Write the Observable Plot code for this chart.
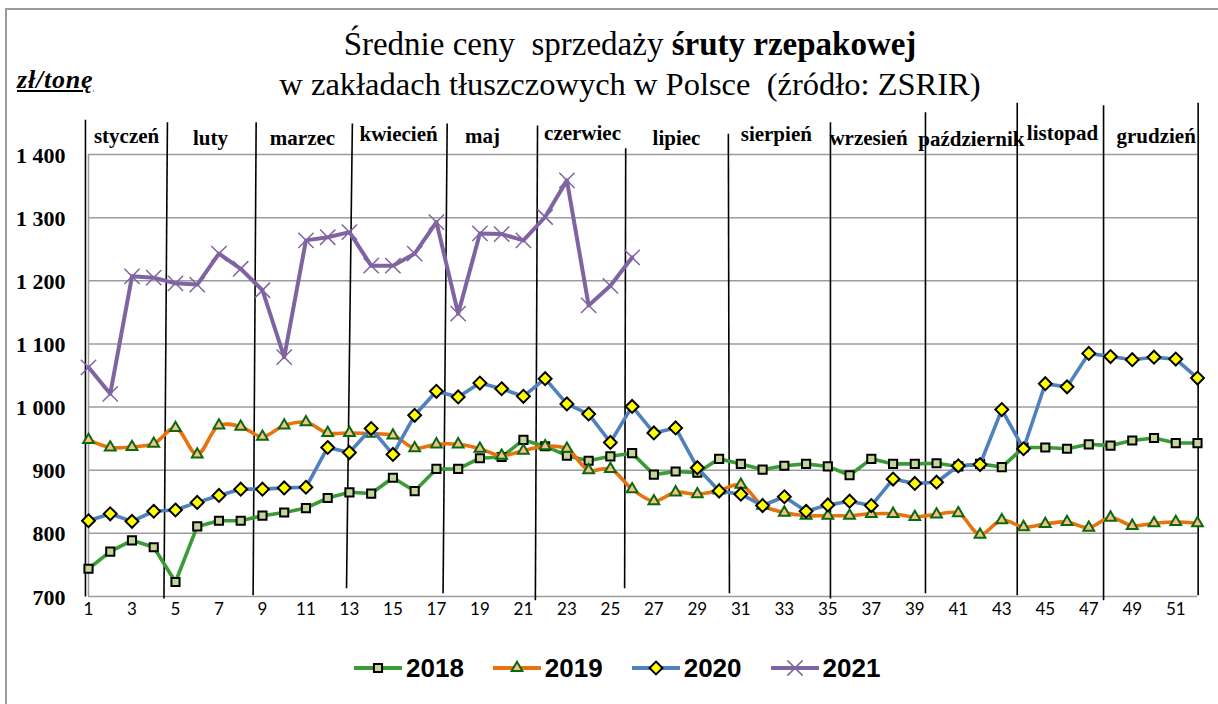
<!DOCTYPE html>
<html>
<head>
<meta charset="utf-8">
<script src="https://cdn.jsdelivr.net/npm/d3@7"></script>
<script src="https://cdn.jsdelivr.net/npm/@observablehq/plot@0.6"></script>
<style>
  html, body { margin: 0; padding: 0; background: #fff; }
  #wrap { position: relative; width: 1218px; height: 704px; overflow: hidden; background: #fff; }
  #frame { position: absolute; left: 5px; top: 8px; width: 1300px; height: 800px;
           border-left: 2px solid #9a9a9a; border-top: 2px solid #9a9a9a; }
  .title { position: absolute; left: 21px; width: 1218px; text-align: center;
           font-family: "Liberation Serif", serif; font-size: 33px; line-height: 33px;
           white-space: pre; color: #000; }
  #unit { position: absolute; left: 17px; top: 67px; font-family: "Liberation Serif", serif;
          font-weight: bold; font-style: italic; font-size: 26px; line-height: 26px;
          text-decoration: underline; letter-spacing: 0.8px; }
  #chart { position: absolute; left: 0; top: 100px; }
  #legend { position: absolute; left: 354px; top: 652px; display: flex; align-items: center;
            font-family: "Liberation Sans", sans-serif; font-weight: bold; font-size: 26px; line-height: 32px; }
  #legend .item { display: flex; align-items: center; margin-right: 29px; }
  #legend svg { display: block; margin-right: 4px; }
</style>
</head>
<body>
<div id="wrap">
  <div id="frame"></div>
  <div class="title" style="top:28px">Średnie ceny  sprzedaży <b>śruty rzepakowej</b></div>
  <div class="title" style="top:68px; font-size:32.5px">w zakładach tłuszczowych w Polsce  (źródło: ZSRIR)</div>
  <div id="unit">zł/tonę</div>
  <div id="chart"></div>
  <div id="legend"></div>
</div>
<script>
// ---------- data ----------
const weeks = [1,2,3,4,5,6,7,8,9,10,11,12,13,14,15,16,17,18,19,20,21,22,23,24,25,26,
               27,28,29,30,31,32,33,34,35,36,37,38,39,40,41,42,43,44,45,46,47,48,49,50,51,52];
const price2018 = [744,771,789,778,723,811,820,820,828,833,840,856,865,863,888,867,902,902,919,921,948,938,923,915,922,927,
                   893,898,896,918,910,901,907,910,906,892,918,910,910,911,906,910,905,936,936,934,941,939,947,951,943,943];
const price2019 = [948,936,937,942,967,925,971,969,953,971,976,959,959,958,955,935,941,941,934,923,931,938,934,900,902,870,
                   851,865,862,868,877,844,833,828,828,828,831,831,826,830,832,798,821,810,815,818,809,825,812,816,818,816];
const price2020 = [820,831,819,835,837,849,860,870,870,872,873,936,928,966,925,987,1025,1016,1038,1029,1017,1045,1005,989,944,1001,
                   959,967,904,867,862,844,858,835,845,851,844,886,879,881,907,909,996,934,1037,1032,1085,1080,1075,1079,1076,1046];
const price2021 = [1063,1021,1207,1205,1196,1194,1243,1219,1185,1079,1264,1269,1277,1224,1224,1243,1293,1148,1275,1274,1264,1301,1359,1161,1192,1237];
const seriesNames = ["2018","2019","2020","2021"];

const yTicks = [700,800,900,1000,1100,1200,1300,1400];
const yTickLabels = ["700","800","900","1 000","1 100","1 200","1 300","1 400"];
const xTicks = [1,3,5,7,9,11,13,15,17,19,21,23,25,27,29,31,33,35,37,39,41,43,45,47,49,51];
const xTickLabels = ["1","3","5","7","9","11","13","15","17","19","21","23","25","27","29","31","33","35","37","39","41","43","45","47","49","51"];

const months = ["styczeń","luty","marzec","kwiecień","maj","czerwiec","lipiec","sierpień","wrzesień","październik","listopad","grudzień"];
const monthCenters = [2.75,6.61,10.84,15.26,19.12,23.72,28.04,32.63,36.87,41.6,45.79,50.1];   // week position of label
const monthBoundaries = [0.86,4.55,8.64,13.0,17.4,21.6,25.68,30.45,35.12,39.49,43.71,47.68,52.03]; // week position of separator

// ---------- styling (hand-drawn look of the separators / label heights) ----------
const sepTilt   = [0,0.16,0.14,0.27,0.19,0.1,0.05,-0.05,0,0,0,0,0];
const sepTop    = [1455,1451,1451,1449,1449,1446,1410,1433,1451,1467,1482,1478,1482];
const sepBottom = [700,697,702,713,705,694,713,705,697,705,702,694,702];
const labelY    = [1429,1426,1426,1432,1429,1434,1426,1432,1426,1424,1434,1429];

const rows = (vals, name) => vals.map((v, i) => ({week: weeks[i], price: v, year: name}));
const d18 = rows(price2018, seriesNames[0]);
const d19 = rows(price2019, seriesNames[1]);
const d20 = rows(price2020, seriesNames[2]);
const d21 = rows(price2021, seriesNames[3]);

const seps = monthBoundaries.map((w, i) => ({xt: w + sepTilt[i] / 2, xb: w - sepTilt[i] / 2, yt: sepTop[i], yb: sepBottom[i]}));
const monthRows = months.map((m, i) => ({name: m, x: monthCenters[i], y: labelY[i]}));
const yRows = yTicks.map((v, i) => ({v, label: yTickLabels[i]}));
const xRows = xTicks.map((v, i) => ({v, label: xTickLabels[i]}));

const C = {
  g: "#3b9b35", gFill: "#c4d79b",
  o: "#e8720c", oFill: "#f9bf90", oStroke: "#0b6b0b",
  b: "#4f81bd", bFill: "#ffff00",
  p: "#8064a2"
};

const serif = "Liberation Serif";

const chart = Plot.plot({
  width: 1218, height: 540,
  marginLeft: 88, marginRight: 21, marginTop: 54, marginBottom: 44,
  x: {domain: [1, 52], axis: null},
  y: {domain: [700, 1400], axis: null},
  style: {background: "transparent", overflow: "visible"},
  marks: [
    Plot.ruleY(yTicks, {y: d => d, x1: 1, x2: 52, stroke: "#9c9c9c", strokeWidth: 1.5}),
    Plot.ruleX([1], {x: d => d, y1: 700, y2: 1400, stroke: "#9c9c9c", strokeWidth: 1.5}),
    Plot.text(yRows, {x: () => 1, y: "v", text: "label", dx: -23, dy: 1, textAnchor: "end",
      fontFamily: serif, fontWeight: "bold", fontSize: 22, fill: "#000"}),
    Plot.text(xRows, {x: "v", y: () => 700, text: "label", dy: 13,
      fontFamily: "Lato", fontSize: 17, fill: "#000"}),
    Plot.link(seps, {x1: "xt", y1: "yt", x2: "xb", y2: "yb", stroke: "#000", strokeWidth: 1.6}),
    Plot.text(monthRows, {x: "x", y: "y", text: "name", fontFamily: serif, fontWeight: "bold",
      fontSize: 21, fill: "#000"}),
    // 2018
    Plot.line(d18, {x: "week", y: "price", stroke: C.g, strokeWidth: 3.6}),
    Plot.dot(d18, {x: "week", y: "price", symbol: "square", r: 4.6, fill: C.gFill, stroke: "#000", strokeWidth: 2}),
    // 2019
    Plot.line(d19, {x: "week", y: "price", stroke: C.o, strokeWidth: 3.6, curve: "catmull-rom"}),
    Plot.dot(d19, {x: "week", y: "price", symbol: "triangle", r: 4.0, fill: C.oFill, stroke: C.oStroke, strokeWidth: 2}),
    // 2020
    Plot.line(d20, {x: "week", y: "price", stroke: C.b, strokeWidth: 3.6}),
    Plot.dot(d20, {x: "week", y: "price", symbol: "diamond2", r: 5.8, fill: C.bFill, stroke: "#000", strokeWidth: 2}),
    // 2021
    Plot.line(d21, {x: "week", y: "price", stroke: C.p, strokeWidth: 4}),
    Plot.dot(d21, {x: "week", y: "price", symbol: "times", r: 7, stroke: C.p, strokeWidth: 1.5, fill: "none"})
  ]
});
document.getElementById("chart").appendChild(chart);

// ---------- legend ----------
const legendSpec = [
  {name: seriesNames[0], line: C.g, sym: d3.symbolSquare, size: Math.PI * 4.6 * 4.6, fill: C.gFill, stroke: "#000", sw: 2},
  {name: seriesNames[1], line: C.o, sym: d3.symbolTriangle, size: Math.PI * 4.0 * 4.0, fill: C.oFill, stroke: C.oStroke, sw: 2},
  {name: seriesNames[2], line: C.b, sym: d3.symbolDiamond2, size: Math.PI * 5.8 * 5.8, fill: C.bFill, stroke: "#000", sw: 2},
  {name: seriesNames[3], line: C.p, sym: d3.symbolTimes, size: Math.PI * 7 * 7, fill: "none", stroke: C.p, sw: 1.5}
];
const legend = d3.select("#legend");
legendSpec.forEach(s => {
  const item = legend.append("div").attr("class", "item");
  const svg = item.append("svg").attr("width", 48).attr("height", 30);
  svg.append("line").attr("x1", 1).attr("x2", 47).attr("y1", 15).attr("y2", 15)
    .attr("stroke", s.line).attr("stroke-width", 4).attr("stroke-linecap", "round");
  svg.append("path").attr("transform", "translate(24,15)")
    .attr("d", d3.symbol(s.sym, s.size)())
    .attr("fill", s.fill).attr("stroke", s.stroke).attr("stroke-width", s.sw);
  item.append("span").text(s.name);
});
</script>
</body>
</html>
